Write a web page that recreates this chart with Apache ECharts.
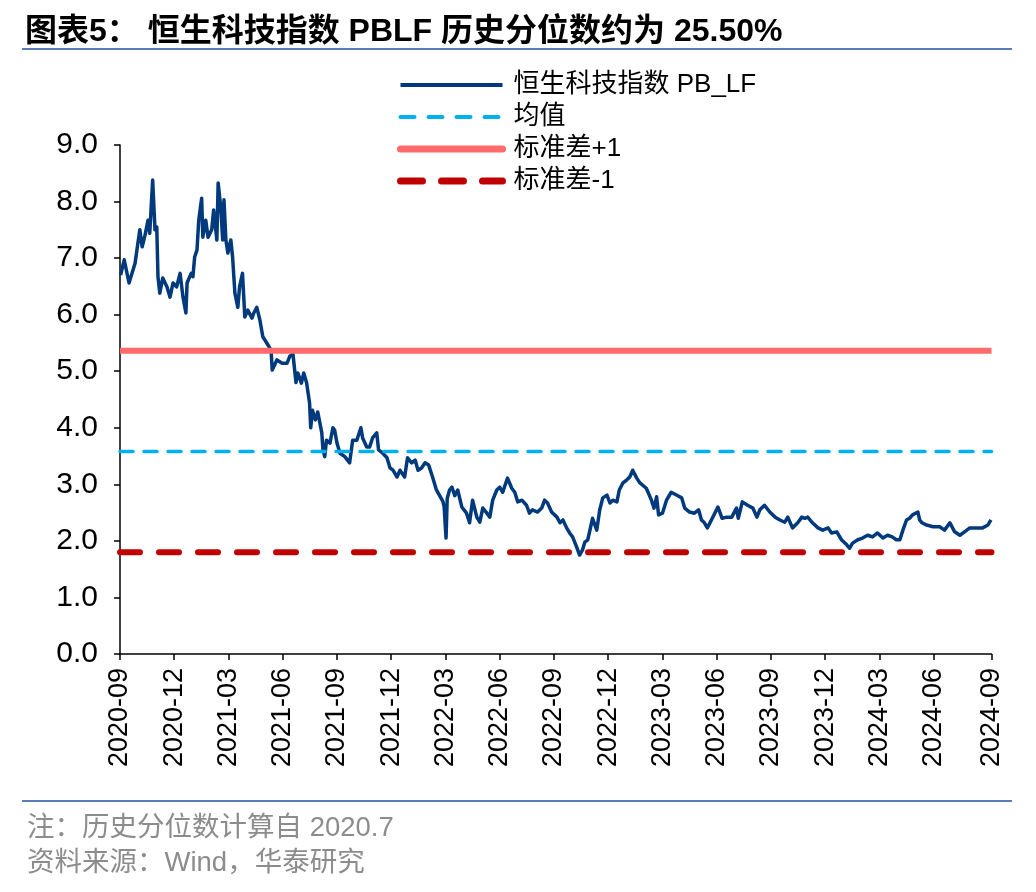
<!DOCTYPE html>
<html>
<head>
<meta charset="utf-8">
<script src="https://cdn.jsdelivr.net/npm/echarts@6/dist/echarts.min.js"></script>
<style>
html,body{margin:0;padding:0;background:#fff;}
#chart{width:1036px;height:892px;}
</style>
</head>
<body>
<div id="chart"></div>
<script>
const seriesNames = ['恒生科技指数 PB_LF', '均值', '标准差+1', '标准差-1'];
const xTickLabels = ['2020-09','2020-12','2021-03','2021-06','2021-09','2021-12','2022-03','2022-06','2022-09','2022-12','2023-03','2023-06','2023-09','2023-12','2024-03','2024-06','2024-09'];
const yTickLabels = ['0.0','1.0','2.0','3.0','4.0','5.0','6.0','7.0','8.0','9.0'];
const meanValue = 3.58;
const stdUpValue = 5.36;
const stdDownValue = 1.80;
const lineStart = '2020-09-01';
const lineEnd = '2024-09-07';

const dates = [
'2020-09-02','2020-09-08','2020-09-16','2020-09-26','2020-09-29','2020-10-04','2020-10-08','2020-10-13','2020-10-18','2020-10-21',
'2020-10-26','2020-10-30','2020-11-02','2020-11-04','2020-11-07','2020-11-12','2020-11-19','2020-11-24','2020-11-29','2020-12-05',
'2020-12-11','2020-12-16','2020-12-21','2020-12-23','2020-12-30','2021-01-02','2021-01-05','2021-01-09','2021-01-12','2021-01-17',
'2021-01-19','2021-01-24','2021-01-28','2021-02-03','2021-02-06','2021-02-11','2021-02-13','2021-02-17','2021-02-20','2021-02-22',
'2021-02-25','2021-02-28','2021-03-05','2021-03-08','2021-03-12','2021-03-17','2021-03-20','2021-03-25','2021-03-29','2021-04-03',
'2021-04-10','2021-04-13','2021-04-18','2021-04-23','2021-04-28','2021-05-07','2021-05-12','2021-05-14','2021-05-22','2021-05-31',
'2021-06-08','2021-06-13','2021-06-18','2021-06-23','2021-06-26','2021-07-02','2021-07-06','2021-07-11','2021-07-16','2021-07-18',
'2021-07-21','2021-07-26','2021-07-30','2021-08-06','2021-08-08','2021-08-11','2021-08-14','2021-08-20','2021-08-25','2021-08-28',
'2021-09-01','2021-09-06','2021-09-14','2021-09-22','2021-09-27','2021-10-04','2021-10-11','2021-10-14','2021-10-21','2021-10-26',
'2021-10-31','2021-11-07','2021-11-10','2021-11-17','2021-11-24','2021-11-29','2021-12-04','2021-12-11','2021-12-16','2021-12-24',
'2021-12-29','2022-01-05','2022-01-11','2022-01-16','2022-01-22','2022-01-28','2022-02-03','2022-02-09','2022-02-15','2022-02-20',
'2022-02-25','2022-02-27','2022-03-02','2022-03-04','2022-03-08','2022-03-12','2022-03-17','2022-03-22','2022-03-29','2022-04-06',
'2022-04-11','2022-04-16','2022-04-23','2022-04-28','2022-05-03','2022-05-10','2022-05-15','2022-05-20','2022-05-27','2022-06-01',
'2022-06-06','2022-06-11','2022-06-14','2022-06-21','2022-06-26','2022-07-01','2022-07-08','2022-07-16','2022-07-21','2022-07-26',
'2022-08-04','2022-08-11','2022-08-16','2022-08-21','2022-08-28','2022-09-06','2022-09-11','2022-09-16','2022-09-22','2022-09-27',
'2022-10-02','2022-10-09','2022-10-14','2022-10-19','2022-10-23','2022-10-28','2022-11-02','2022-11-05','2022-11-12','2022-11-17',
'2022-11-22','2022-11-29','2022-12-04','2022-12-09','2022-12-16','2022-12-20','2022-12-26','2023-01-02','2023-01-07','2023-01-12',
'2023-01-19','2023-01-24','2023-02-04','2023-02-12','2023-02-16','2023-02-20','2023-02-23','2023-03-01','2023-03-08','2023-03-16',
'2023-03-25','2023-04-03','2023-04-08','2023-04-16','2023-04-24','2023-05-01','2023-05-06','2023-05-11','2023-05-16','2023-05-23',
'2023-06-03','2023-06-10','2023-06-18','2023-06-26','2023-07-04','2023-07-07','2023-07-14','2023-07-23','2023-08-01','2023-08-08',
'2023-08-13','2023-08-21','2023-08-30','2023-09-08','2023-09-16','2023-09-24','2023-09-29','2023-10-07','2023-10-16','2023-10-23',
'2023-10-28','2023-11-02','2023-11-10','2023-11-19','2023-11-27','2023-12-06','2023-12-12','2023-12-21','2023-12-29','2024-01-07',
'2024-01-12','2024-01-17','2024-01-26','2024-02-03','2024-02-11','2024-02-19','2024-02-27','2024-03-07','2024-03-15','2024-03-23',
'2024-03-30','2024-04-05','2024-04-10','2024-04-16','2024-04-21','2024-04-26','2024-05-05','2024-05-08','2024-05-12','2024-05-20',
'2024-05-31','2024-06-11','2024-06-19','2024-06-28','2024-07-06','2024-07-15','2024-07-23','2024-08-01','2024-08-13','2024-08-23',
'2024-09-01','2024-09-06'
];
const pbValues = [
6.70,6.97,6.56,6.91,7.14,7.50,7.20,7.41,7.67,7.44,
8.38,7.50,7.55,6.67,6.38,6.65,6.49,6.31,6.56,6.49,
6.73,6.31,6.03,6.56,6.73,6.67,7.02,7.14,7.67,8.06,
7.37,7.67,7.37,7.50,7.85,7.32,8.33,7.90,7.32,8.03,
7.32,7.09,7.32,7.02,6.38,6.13,6.49,6.73,5.96,6.08,
5.94,6.03,6.13,5.91,5.61,5.46,5.37,5.02,5.20,5.14,
5.14,5.27,5.30,4.80,4.97,4.79,4.97,4.79,4.44,4.00,
4.31,4.14,4.28,3.91,3.61,3.49,3.78,3.73,4.00,3.96,
3.73,3.55,3.49,3.38,3.78,3.78,4.00,3.82,3.66,3.66,
3.82,3.91,3.61,3.55,3.47,3.29,3.25,3.13,3.25,3.13,
3.47,3.38,3.43,3.25,3.29,3.38,3.34,3.13,2.90,2.80,
2.70,2.60,2.05,2.75,2.90,2.95,2.80,2.90,2.60,2.49,
2.32,2.72,2.42,2.33,2.58,2.49,2.42,2.72,2.90,2.95,
2.86,3.02,3.11,2.93,2.86,2.69,2.72,2.63,2.49,2.55,
2.51,2.58,2.72,2.67,2.51,2.42,2.32,2.37,2.23,2.14,
2.07,1.89,1.75,1.84,1.98,2.02,2.25,2.40,2.19,2.55,
2.76,2.81,2.67,2.72,2.69,2.90,3.02,3.08,3.13,3.25,
3.11,3.03,2.93,2.72,2.58,2.78,2.46,2.49,2.72,2.86,
2.81,2.76,2.58,2.51,2.49,2.55,2.37,2.32,2.23,2.37,
2.60,2.40,2.42,2.42,2.58,2.40,2.69,2.63,2.58,2.42,
2.55,2.63,2.51,2.42,2.37,2.33,2.42,2.23,2.32,2.42,
2.40,2.42,2.32,2.23,2.19,2.23,2.14,2.16,2.02,1.93,
1.87,1.96,2.02,2.05,2.10,2.07,2.14,2.05,2.10,2.07,
2.02,2.02,2.19,2.37,2.40,2.46,2.51,2.37,2.32,2.28,
2.25,2.25,2.19,2.32,2.16,2.10,2.16,2.23,2.23,2.23,
2.28,2.37
];

// convert a date string to a fractional month count from 2020-09 (date axis in months)
function monthIndex(s) {
  const p = s.split('-').map(Number);
  const dim = new Date(p[0], p[1], 0).getDate();
  return (p[0] - 2020) * 12 + (p[1] - 9) + (p[2] - 1) / dim;
}

const pbData = dates.map((d, i) => [monthIndex(d), pbValues[i]]);
const xMin = monthIndex(lineStart);
const xMax = monthIndex(lineEnd);
const flat = v => [[xMin, v], [xMax, v]];

const FONT = '"Liberation Sans", Arial, "Noto Sans CJK SC", sans-serif';
const chart = echarts.init(document.getElementById('chart'), null, {renderer: 'canvas'});
chart.setOption({
  animation: false,
  backgroundColor: '#fff',
  title: [
    {text: '图表5： 恒生科技指数 PBLF 历史分位数约为 25.50%', left: 20, top: 11,
     textStyle: {fontFamily: FONT, fontSize: 32, fontWeight: 'bold', color: '#000'}},
    {text: '注：历史分位数计算自 2020.7', left: 22, top: 810,
     textStyle: {fontFamily: FONT, fontSize: 27.5, fontWeight: 'normal', color: '#8c8c8c'}},
    {text: '资料来源：Wind，华泰研究', left: 22, top: 845,
     textStyle: {fontFamily: FONT, fontSize: 27.5, fontWeight: 'normal', color: '#8c8c8c'}}
  ],
  graphic: [
    {type: 'line', shape: {x1: 22, y1: 49, x2: 1012, y2: 49}, style: {stroke: '#5b7db5', lineWidth: 2}},
    {type: 'line', shape: {x1: 22, y1: 801, x2: 1012, y2: 801}, style: {stroke: '#5b7db5', lineWidth: 2}}
  ],
  legend: {
    orient: 'vertical', left: 392, top: 67, itemWidth: 102, itemHeight: 12, itemGap: 6,
    itemStyle: {opacity: 0},
    data: [
      {name: seriesNames[0], lineStyle: {width: 4}},
      {name: seriesNames[1], lineStyle: {width: 4, type: [14, 14], cap: 'round'}},
      {name: seriesNames[2], lineStyle: {width: 7, cap: 'round'}},
      {name: seriesNames[3], lineStyle: {width: 7, type: [22, 19], cap: 'round'}}
    ],
    textStyle: {fontFamily: FONT, fontSize: 26, color: '#000', padding: [0, 0, 0, 6]}
  },
  grid: {left: 120, right: 44.5, top: 145, bottom: 238},
  xAxis: {
    type: 'value', min: xMin, max: xMax, interval: 3,
    splitLine: {show: false},
    axisLine: {lineStyle: {color: '#000', width: 1.5}},
    axisTick: {show: true, length: 6, lineStyle: {color: '#000', width: 1.5}},
    axisLabel: {rotate: 90, margin: 14, fontFamily: FONT, fontSize: 27, color: '#000',
      showMaxLabel: true,
      formatter: v => xTickLabels[Math.round(v / 3)] || ''}
  },
  yAxis: {
    type: 'value', min: 0, max: 9, interval: 1,
    splitLine: {show: false},
    axisLine: {show: true, lineStyle: {color: '#000', width: 1.5}},
    axisTick: {show: true, length: 6, lineStyle: {color: '#000', width: 1.5}},
    axisLabel: {margin: 22, fontFamily: FONT, fontSize: 30, color: '#000',
      formatter: v => yTickLabels[Math.round(v)]}
  },
  series: [
    {name: seriesNames[0], type: 'line', data: pbData, symbol: 'none', z: 3,
     lineStyle: {color: '#003a7d', width: 3.5, join: 'round'}, itemStyle: {color: '#003a7d'}},
    {name: seriesNames[1], type: 'line', data: flat(meanValue), symbol: 'none', z: 4,
     lineStyle: {color: '#00b0f0', width: 3.5, type: [13, 11], cap: 'round'}, itemStyle: {color: '#00b0f0'}},
    {name: seriesNames[2], type: 'line', data: flat(stdUpValue), symbol: 'none', z: 4,
     lineStyle: {color: '#ff6b6b', width: 6}, itemStyle: {color: '#ff6b6b'}},
    {name: seriesNames[3], type: 'line', data: flat(stdDownValue), symbol: 'none', z: 4,
     lineStyle: {color: '#c00000', width: 6, type: [20, 19], cap: 'round'}, itemStyle: {color: '#c00000'}}
  ]
});
</script>
</body>
</html>
